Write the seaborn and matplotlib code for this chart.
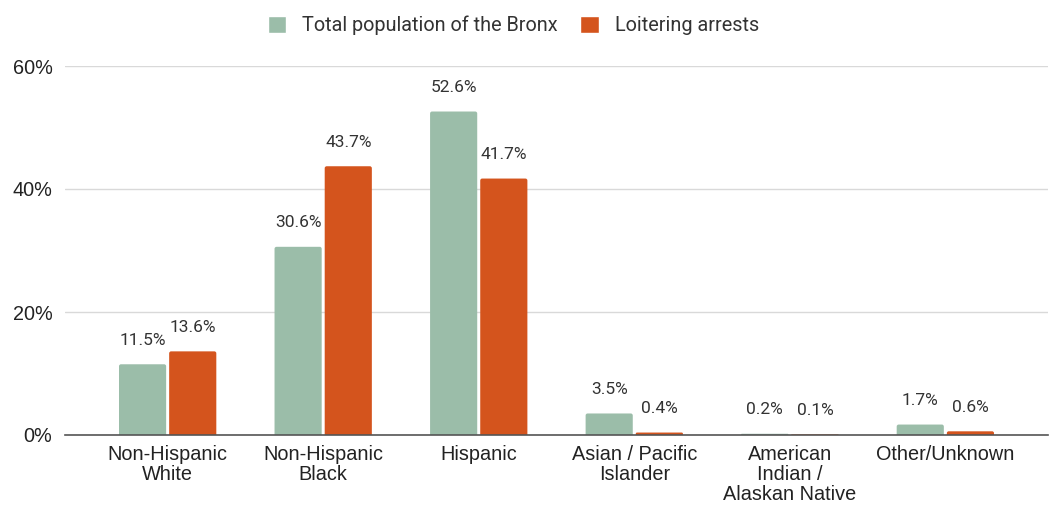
import matplotlib
matplotlib.use("Agg")
import matplotlib.pyplot as plt
import seaborn as sns
import pandas as pd
from matplotlib.ticker import FuncFormatter
from matplotlib.patches import FancyBboxPatch

# Racial / ethnic breakdown, in percent
categories = [
    "Non-Hispanic\nWhite",
    "Non-Hispanic\nBlack",
    "Hispanic",
    "Asian / Pacific\nIslander",
    "American\nIndian /\nAlaskan Native",
    "Other/Unknown",
]
population = [11.5, 30.6, 52.6, 3.5, 0.2, 1.7]
arrests = [13.6, 43.7, 41.7, 0.4, 0.1, 0.6]
series_names = ["Total population of the Bronx", "Loitering arrests"]
y_ticks = [0, 20, 40, 60]

colors = ["#9bbda9", "#d4541d"]

df = pd.DataFrame({
    "group": categories * 2,
    "series": [series_names[0]] * len(categories) + [series_names[1]] * len(categories),
    "value": population + arrests,
})

sns.set_theme(style="white")
plt.rcParams["font.family"] = ["Roboto", "DejaVu Sans"]

fig = plt.figure(figsize=(10.55, 5.05), dpi=100)
ax = fig.add_axes([65 / 1055, 1 - 435 / 505, (1048 - 65) / 1055, (435 - 66) / 505])

sns.barplot(
    data=df, x="group", y="value", hue="series",
    order=categories, hue_order=series_names, palette=colors,
    width=0.645, gap=0.06, saturation=1, ax=ax, legend=True,
)

ax.set_ylim(0, 60)
ax.set_xlim(-0.66, len(categories) - 0.34)
ax.set_yticks(y_ticks)
ax.yaxis.set_major_formatter(FuncFormatter(lambda v, _: f"{v:.0f}%"))
ax.grid(axis="y", color="#d9d9d9", linewidth=1)
ax.set_axisbelow(True)
for s in ["top", "right", "left"]:
    ax.spines[s].set_visible(False)
ax.spines["bottom"].set_color("#555555")
ax.spines["bottom"].set_linewidth(1.2)
ax.spines["bottom"].set_zorder(5)
ax.tick_params(axis="both", length=0, labelsize=14.3, colors="#222222")
ax.tick_params(axis="x", pad=7)
ax.tick_params(axis="y", pad=9)
for lbl in ax.get_xticklabels() + ax.get_yticklabels():
    lbl.set_fontfamily(["Liberation Sans", "DejaVu Sans"])
for lbl in ax.get_xticklabels():
    lbl.set_linespacing(1.06)
ax.set_xlabel("")
ax.set_ylabel("")

values = [population, arrests]
for cont, vals in zip(ax.containers, values):
    ax.bar_label(cont, labels=[f"{v}%" for v in vals], padding=12,
                 fontsize=12.5, color="#333333")

# Soften the bar corners slightly
x0, x1 = ax.get_xlim()
y0, y1 = ax.get_ylim()
w_px = ax.bbox.width / (x1 - x0)
h_px = ax.bbox.height / (y1 - y0)
for cont in ax.containers:
    for p in cont.patches:
        x, y = p.get_x(), p.get_y()
        w, h = p.get_width(), p.get_height()
        r = 2.0 / w_px
        r = min(r, w / 2, h * h_px / w_px / 2) if h > 0 else 0
        fb = FancyBboxPatch(
            (x + r, y), w - 2 * r, max(h - r * w_px / h_px, 0),
            boxstyle=f"round,pad={r}", mutation_aspect=w_px / h_px,
            facecolor=p.get_facecolor(), edgecolor="none", zorder=p.get_zorder(),
        )
        ax.add_patch(fb)
        p.set_visible(False)
ax.set_ylim(0, 60)

ax.legend(
    loc="upper center", bbox_to_anchor=(0.456, 1.185), ncol=2, frameon=False,
    fontsize=14.3, handlelength=0.95, handleheight=0.95, handletextpad=0.8,
    columnspacing=1.1, labelcolor="#333333",
)

fig.savefig("out.png", dpi=100)
